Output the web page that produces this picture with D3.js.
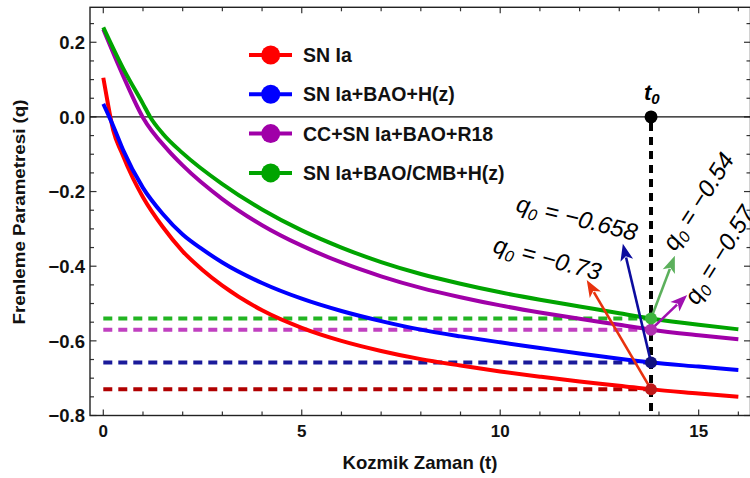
<!DOCTYPE html>
<html>
<head>
<meta charset="utf-8">
<script src="https://cdn.jsdelivr.net/npm/d3@7"></script>
<style>
  html, body { margin: 0; padding: 0; background: #fff; }
  svg { display: block; }
  text { font-family: "Liberation Sans", Arial, sans-serif; }
</style>
</head>
<body>
<svg id="chart" width="750" height="478"></svg>
<script>
// Deceleration parameter q(t) for four data-set combinations
const seriesNames = ["SN Ia", "SN Ia+BAO+H(z)", "CC+SN Ia+BAO+R18", "SN Ia+BAO/CMB+H(z)"];

const snIa = [[0,0.105],[0.1,0.045],[0.25,-0.036],[0.46,-0.095],[0.75,-0.165],[1,-0.215],[1.5,-0.295],[2,-0.36],[2.5,-0.41],[3,-0.452],[4,-0.518],[5,-0.565],[6,-0.6],[7,-0.627],[8,-0.649],[9,-0.666],[10,-0.682],[11,-0.696],[12,-0.709],[13,-0.72],[13.8,-0.73],[15,-0.741],[16,-0.75]];
const snIaBaoHz = [[0,0.035],[0.15,0],[0.3,-0.037],[0.5,-0.089],[1,-0.19],[1.5,-0.26],[2,-0.315],[2.5,-0.355],[3,-0.39],[4,-0.445],[5,-0.487],[6,-0.52],[7,-0.547],[8,-0.57],[9,-0.588],[10,-0.604],[11,-0.619],[12,-0.634],[13,-0.648],[13.8,-0.658],[15,-0.669],[16,-0.678]];
const ccSnIaBaoR18 = [[0,0.235],[0.5,0.11],[0.99,0],[1.63,-0.089],[2,-0.13],[3,-0.22],[4,-0.29],[5,-0.345],[6,-0.39],[7,-0.427],[8,-0.458],[9,-0.483],[10,-0.505],[11,-0.524],[12,-0.541],[13,-0.557],[13.8,-0.57],[15,-0.585],[16,-0.596]];
const snIaBaoCmbHz = [[0,0.24],[0.5,0.13],[1,0.035],[1.18,0],[1.5,-0.045],[2,-0.097],[3,-0.18],[4,-0.248],[5,-0.304],[6,-0.35],[7,-0.389],[8,-0.421],[9,-0.447],[10,-0.47],[11,-0.49],[12,-0.508],[13,-0.526],[13.8,-0.54],[15,-0.557],[16,-0.569]];

// present-day values at t0
const t0 = 13.8;
const q0Values = [-0.73, -0.658, -0.57, -0.54];
// arrow tips (t, q) pointing to each q0 label
const arrowTips = [[12.18,-0.437],[13.09,-0.340],[14.71,-0.477],[14.4,-0.372]];

const xTicks = [0, 5, 10, 15];
const yTicks = [-0.8, -0.6, -0.4, -0.2, 0.0, 0.2];

const lineColors  = ["#ff0000", "#0000ff", "#a000a8", "#00a400"];
const dashColors  = ["#b00000", "#1a1a9a", "#c040c0", "#22b422"];
const dotColors   = ["#c01818", "#12127e", "#b030b0", "#3cb43c"];
const arrowColors = ["#e8320e", "#0c0c9e", "#a010b0", "#5cb05c"];

const svg = d3.select("#chart");
const L = 90, R = 750.5, T = 7.3, B = 415.5;

const x = d3.scaleLinear().domain([-0.335, 16.306]).range([L, R]);
const y = d3.scaleLinear().domain([-0.8, 0.2937]).range([B, T]);

svg.append("defs").append("clipPath").attr("id", "plot")
  .append("rect").attr("x", L).attr("y", T).attr("width", R - L).attr("height", B - T);

// frame ticks (inward)
const frame = svg.append("g").attr("stroke", "#333").attr("stroke-width", 1.2);
const xMinor = d3.range(0, 17, 1);
const yMinor = d3.range(-0.8, 0.2937, 0.05).map(v => +v.toFixed(2));
xMinor.forEach(t => {
  const len = t % 5 === 0 ? 6 : 4;
  frame.append("line").attr("x1", x(t)).attr("x2", x(t)).attr("y1", B).attr("y2", B - len);
  frame.append("line").attr("x1", x(t)).attr("x2", x(t)).attr("y1", T).attr("y2", T + len);
});
yMinor.forEach(v => {
  const major = Math.abs(Math.round(v * 5) - v * 5) < 1e-6;
  const len = major ? 6.5 : 4;
  frame.append("line").attr("x1", L).attr("x2", L + len).attr("y1", y(v)).attr("y2", y(v));
  frame.append("line").attr("x1", R - len).attr("x2", R).attr("y1", y(v)).attr("y2", y(v));
});
svg.append("rect").attr("x", L).attr("y", T).attr("width", R - L).attr("height", B - T)
  .attr("fill", "none").attr("stroke", "#222").attr("stroke-width", 1.4);

// tick labels
svg.append("g").selectAll("text").data(xTicks).join("text")
  .attr("x", d => x(d)).attr("y", 437).attr("text-anchor", "middle")
  .attr("font-size", 17).attr("font-weight", "bold").attr("fill", "#111")
  .text(d => d);
svg.append("g").selectAll("text").data(yTicks).join("text")
  .attr("x", 85).attr("y", d => y(d)).attr("dy", "0.36em").attr("text-anchor", "end")
  .attr("font-size", 18.5).attr("font-weight", "bold").attr("fill", "#111")
  .text(d => d3.format(".1f")(d).replace("-", "\u2212"));

// axis titles
svg.append("text").attr("x", 420).attr("y", 469).attr("text-anchor", "middle")
  .attr("font-size", 19).attr("font-weight", "bold").attr("fill", "#111")
  .attr("textLength", 155).attr("lengthAdjust", "spacingAndGlyphs")
  .text("Kozmik Zaman (t)");
svg.append("text").attr("transform", "translate(25,212) rotate(-90)").attr("text-anchor", "middle")
  .attr("font-size", 17).attr("font-weight", "bold").attr("fill", "#111")
  .attr("textLength", 225).attr("lengthAdjust", "spacingAndGlyphs")
  .text("Frenleme Parametresi (q)");

const plot = svg.append("g").attr("clip-path", "url(#plot)");

// q = 0 reference line
plot.append("line").attr("x1", L).attr("x2", R).attr("y1", y(0)).attr("y2", y(0))
  .attr("stroke", "#111").attr("stroke-width", 1.3);

// dashed q0 levels
q0Values.forEach((q, i) => {
  plot.append("line").attr("x1", x(0)).attr("x2", x(t0)).attr("y1", y(q)).attr("y2", y(q))
    .attr("stroke", dashColors[i]).attr("stroke-width", 4).attr("stroke-dasharray", "9,6");
});

// curves
const line = d3.line().x(d => x(d[0])).y(d => y(d[1])).curve(d3.curveMonotoneX);
[snIa, snIaBaoHz, ccSnIaBaoR18, snIaBaoCmbHz].forEach((s, i) => {
  plot.append("path").datum(s).attr("d", line).attr("fill", "none")
    .attr("stroke", lineColors[i]).attr("stroke-width", 4);
});

// t0 vertical marker
plot.append("line").attr("x1", x(t0)).attr("x2", x(t0)).attr("y1", y(0)).attr("y2", y(-0.8))
  .attr("stroke", "#000").attr("stroke-width", 4).attr("stroke-dasharray", "8,6").attr("stroke-dashoffset", -6);

// arrows
function arrow(g, x1, y1, x2, y2, color) {
  const ang = Math.atan2(y2 - y1, x2 - x1);
  const hl = 17, hw = 6.5;
  const bx = x2 - hl * Math.cos(ang), by = y2 - hl * Math.sin(ang);
  g.append("line").attr("x1", x1).attr("y1", y1).attr("x2", bx + 3 * Math.cos(ang)).attr("y2", by + 3 * Math.sin(ang))
    .attr("stroke", color).attr("stroke-width", 2.6);
  const px = -Math.sin(ang) * hw, py = Math.cos(ang) * hw;
  g.append("path")
    .attr("d", `M${x2},${y2}L${bx + px},${by + py}L${bx + 0.25 * hl * Math.cos(ang)},${by + 0.25 * hl * Math.sin(ang)}L${bx - px},${by - py}Z`)
    .attr("fill", color);
}
q0Values.forEach((q, i) => {
  arrow(plot, x(t0), y(q), x(arrowTips[i][0]), y(arrowTips[i][1]), arrowColors[i]);
});

// t0 dots
q0Values.forEach((q, i) => {
  plot.append("circle").attr("cx", x(t0)).attr("cy", y(q)).attr("r", 6).attr("fill", dotColors[i]);
});
plot.append("circle").attr("cx", x(t0)).attr("cy", y(0)).attr("r", 6.5).attr("fill", "#000");

// t0 label
const tl = svg.append("text").attr("x", x(t0) - 7).attr("y", 100)
  .attr("font-size", 22).attr("font-weight", "bold").attr("font-style", "italic").attr("fill", "#000");
tl.append("tspan").text("t");
tl.append("tspan").attr("font-size", 15).attr("dy", 4).text("0");

// q0 labels (the last one runs past the right edge of the page)
const labelPos = [
  { x: 492, y: 252, rot: 15 },
  { x: 515, y: 211, rot: 14 },
  { x: 697, y: 306, rot: -58 },
  { x: 675, y: 252, rot: -57 }
];
q0Values.forEach((q, i) => {
  const p = labelPos[i];
  const t = svg.append("text").attr("transform", `translate(${p.x},${p.y}) rotate(${p.rot})`)
    .attr("font-size", 24).attr("font-style", "italic").attr("fill", "#000");
  t.append("tspan").text("q");
  t.append("tspan").attr("font-size", 16).attr("dy", 5).text("0");
  t.append("tspan").attr("dy", -5).text(" = \u2212" + Math.abs(q));
});

// legend
const lg = svg.append("g");
seriesNames.forEach((name, i) => {
  const cy = 55 + i * 39.3;
  lg.append("line").attr("x1", 249).attr("x2", 292).attr("y1", cy).attr("y2", cy)
    .attr("stroke", lineColors[i]).attr("stroke-width", 4);
  lg.append("circle").attr("cx", 270.7).attr("cy", cy).attr("r", 9.5).attr("fill", lineColors[i]);
  lg.append("text").attr("x", 303).attr("y", cy + 7).attr("font-size", 19.5).attr("font-weight", "bold")
    .attr("fill", "#111").text(name);
});
</script>
</body>
</html>
